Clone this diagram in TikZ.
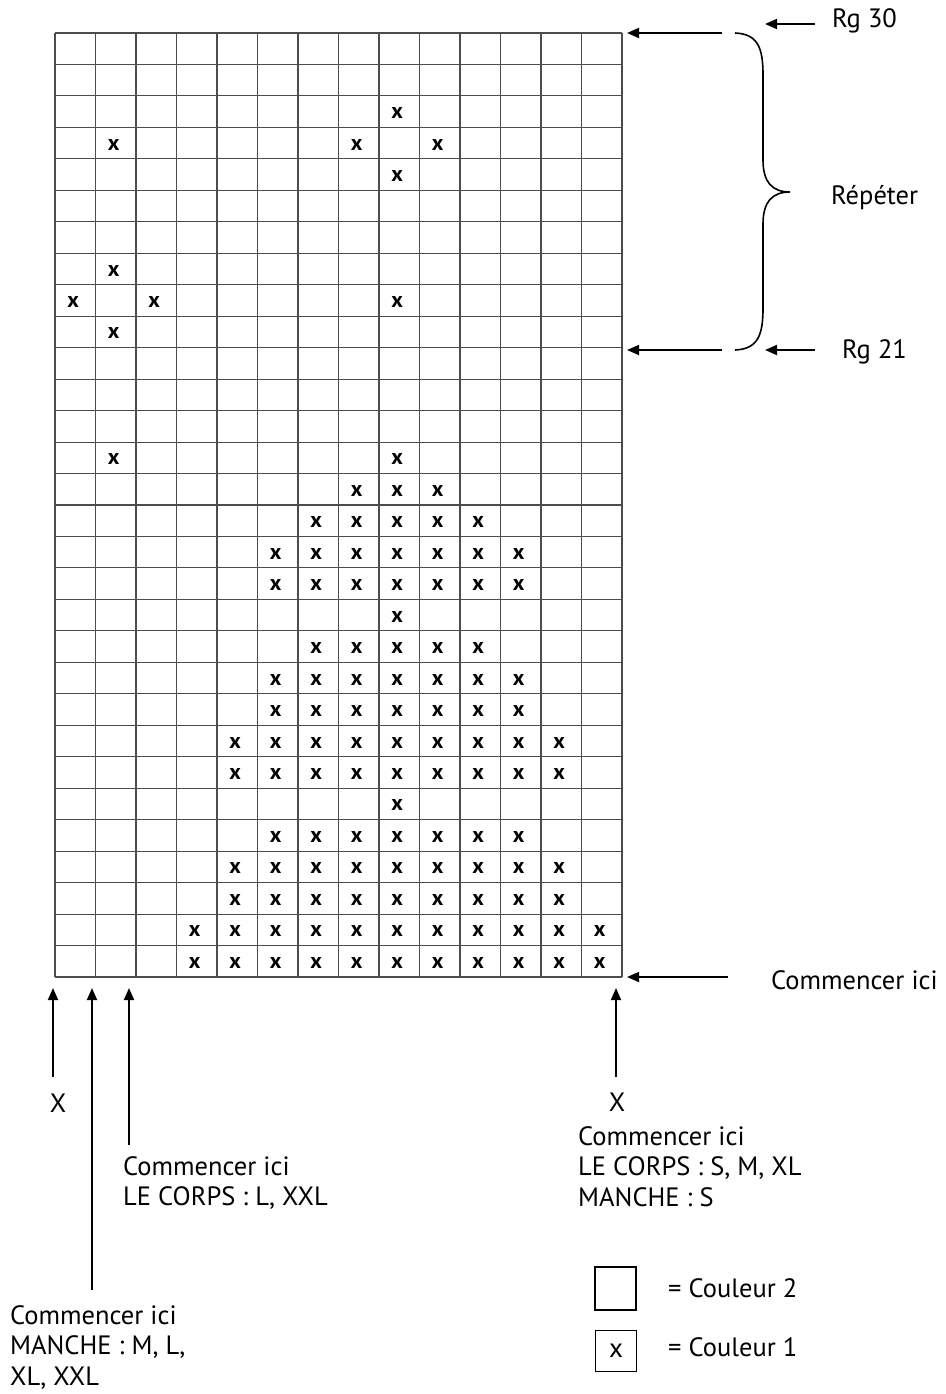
\documentclass[tikz,border=0pt]{standalone}
\usepackage{fontspec}
\setmainfont{PT Sans}
\usetikzlibrary{arrows.meta}
\begin{document}
\begin{tikzpicture}[x=1pt,y=-1pt,
  gridline/.style={draw=black!70,line width=1.1pt},
  arr/.style={draw=black,line width=1.8pt,-{Triangle[length=12pt,width=10pt]}},
  xmark/.style={font=\fontsize{22}{22}\selectfont\bfseries,inner sep=0pt},
  lbl/.style={font=\fontsize{26.5}{30.8}\selectfont,inner sep=0pt,align=left},
  legbox/.style={draw=black,line width=1.4pt,minimum width=41pt,minimum height=43pt,inner sep=0pt}]
\useasboundingbox (0,0) rectangle (945,1394);
\fill[white] (0,0) rectangle (945,1394);
% grid
\foreach \i in {0,...,14} \draw[gridline] ({55+40.5*\i},33) -- ({55+40.5*\i},977);
\foreach \j in {0,...,30} \draw[gridline] (55,{33+944/30*\j}) -- (622,{33+944/30*\j});
% marks
\foreach \r/\a/\b in {1/4/14,2/4/14,3/5/13,4/5/13,5/6/12,6/9/9,7/5/13,8/5/13,9/6/12,10/6/12,11/7/11,12/9/9,13/6/12,14/6/12,15/7/11,16/8/10,17/2/2,17/9/9,21/2/2,22/1/1,22/3/3,22/9/9,23/2/2,26/9/9,27/2/2,27/8/8,27/10/10,28/9/9}
  \foreach \c in {\a,...,\b}
    \node[xmark] (m\r-\c) at ({55+40.5*(\c-0.5)-2},{977-944/30*(\r-0.5)+1.5}) {x};
% right arrows
\coordinate (t30) at (627,33);  \coordinate (s30) at (722,33);
\coordinate (t21) at (627,350); \coordinate (s21) at (722,350);
\coordinate (t1) at (627,977);  \coordinate (s1) at (728,977);
\draw[arr] (s30) -- (t30);
\draw[arr] (s21) -- (t21);
\draw[arr] (s1) -- (t1);
% Rg labels
\node[lbl,anchor=west] (rg30) at (832,21) {Rg 30};
\node[lbl,anchor=west] (rg21) at (842,352) {Rg 21};
\coordinate (rg30s) at (815,24); \coordinate (rg30t) at (765,24);
\coordinate (rg21s) at (815,350); \coordinate (rg21t) at (765,350);
\draw[arr] (rg30s) -- (rg30t);
\draw[arr] (rg21s) -- (rg21t);
% brace
\coordinate (b1) at (735,33); \coordinate (b2) at (790,192); \coordinate (b3) at (735,350);
\draw[line width=1.6pt] (b1) .. controls (758,34) and (763,48) .. (763,75) -- (763,160)
  .. controls (763,182) and (772,192) .. (b2)
  .. controls (772,192) and (763,202) .. (763,224) -- (763,308)
  .. controls (763,335) and (758,349) .. (b3);
\node[lbl,anchor=west] (rep) at (831,198) {Répéter};
\node[lbl,anchor=west] (ci) at (771,980) {Commencer ici};
% bottom arrows
\coordinate (a1t) at (53,988);  \coordinate (a1s) at (53,1077);
\coordinate (a2t) at (92,988);  \coordinate (a2s) at (92,1290);
\coordinate (a3t) at (129,988); \coordinate (a3s) at (129,1145);
\coordinate (a4t) at (616,988); \coordinate (a4s) at (616,1077);
\draw[arr] (a1s) -- (a1t);
\draw[arr] (a2s) -- (a2t);
\draw[arr] (a3s) -- (a3t);
\draw[arr] (a4s) -- (a4t);
\node[lbl] (x1) at (58,1103) {X};
\node[lbl] (x4) at (617,1102) {X};
\node[lbl,anchor=north west] (c3) at (123,1156) {Commencer ici\\LE CORPS : L, XXL};
\node[lbl,anchor=north west] (c4) at (578,1126) {Commencer ici\\LE CORPS : S, M, XL\\MANCHE : S};
\node[lbl,anchor=north west] (c2) at (10,1305) {Commencer ici\\MANCHE : M, L,\\XL, XXL};
% legend
\node[legbox] (l2) at (615.5,1288.5) {};
\node[legbox,minimum height=41pt] (l1) at (616,1351) {\fontsize{27}{27}\selectfont\raisebox{-5pt}{x}};
\node[lbl,anchor=west] (t2) at (668,1288) {= Couleur 2};
\node[lbl,anchor=west] (t1l) at (668,1347) {= Couleur 1};
\end{tikzpicture}
\end{document}
